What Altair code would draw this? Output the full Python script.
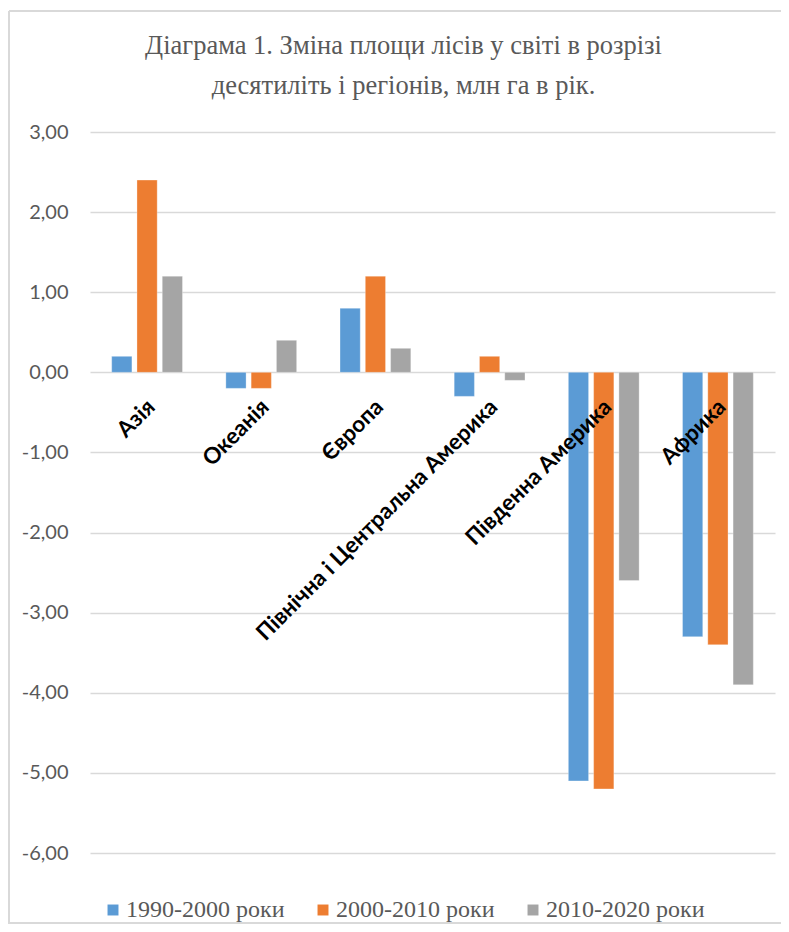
import altair as alt
import pandas as pd

regions = ["Азія", "Океанія", "Європа", "Північна і Центральна Америка", "Південна Америка", "Африка"]
series = ["1990-2000 роки", "2000-2010 роки", "2010-2020 роки"]
v1990 = [0.2, -0.2, 0.8, -0.3, -5.1, -3.3]
v2000 = [2.4, -0.2, 1.2, 0.2, -5.2, -3.4]
v2010 = [1.2, 0.4, 0.3, -0.1, -2.6, -3.9]
colors = ["#5B9BD5", "#ED7D31", "#A5A5A5"]
y_ticks = [-6, -5, -4, -3, -2, -1, 0, 1, 2, 3]

rows = []
for s, vals in zip(series, [v1990, v2000, v2010]):
    for r, v in zip(regions, vals):
        rows.append({"region": r, "series": s, "value": v})
df = pd.DataFrame(rows)
lab = pd.DataFrame({"region": regions})

xscale = alt.Scale(domain=regions, paddingInner=0.38, paddingOuter=0.19)

bars = alt.Chart(df).mark_bar(stroke="white", strokeWidth=0.5, strokeOpacity=0.6).encode(
    x=alt.X("region:N", sort=regions, scale=xscale, axis=None),
    xOffset=alt.XOffset("series:N", sort=series,
                        scale=alt.Scale(paddingInner=0.2, paddingOuter=0)),
    y=alt.Y("value:Q", scale=alt.Scale(domain=[-6, 3], nice=False),
            axis=alt.Axis(values=y_ticks, title=None, domain=False, ticks=False,
                          labelExpr="replace(replace(format(datum.value, '.2f'), '.', ','), '\u2212', '-')",
                          labelFont="Lato", labelFontSize=20, labelColor="#595959",
                          labelPadding=22, grid=True, gridColor="#D9D9D9", gridWidth=1.5)),
    color=alt.Color("series:N", sort=series,
                    scale=alt.Scale(domain=series, range=colors),
                    legend=alt.Legend(orient="none", legendX=11, legendY=766,
                                      direction="horizontal", columns=3, title=None,
                                      labelFont="Liberation Serif", labelFontSize=24,
                                      labelColor="#595959", labelLimit=400,
                                      symbolType="square",
                                      symbolSize=120, symbolStrokeWidth=0,
                                      columnPadding=26, labelOffset=1)),
)

labels = alt.Chart(lab).mark_text(
    angle=315, align="right", baseline="middle", font="Lato", fontWeight="bold",
    fontSize=22.5, color="#000000", dx=-19, dy=25
).encode(
    x=alt.X("region:N", sort=regions, scale=xscale, axis=None),
    y=alt.datum(0),
    text="region:N",
)

frame_color = "#D9D9D9"
frame_top = alt.Chart(lab).mark_rule(color=frame_color, strokeWidth=2).encode(
    x=alt.value(-81), x2=alt.value(700), y=alt.value(-121))
frame_left = alt.Chart(lab).mark_rule(color=frame_color, strokeWidth=2).encode(
    x=alt.value(-81), y=alt.value(-121), y2=alt.value(791))
frame_bottom = alt.Chart(lab).mark_rule(color=frame_color, strokeWidth=2).encode(
    x=alt.value(-90), x2=alt.value(700), y=alt.value(791))

chart = alt.layer(frame_top, frame_left, frame_bottom, bars, labels).properties(
    width=685, height=721,
    padding={"left": 82, "top": 124, "right": 6, "bottom": 78},
    autosize=alt.AutoSizeParams(type="none"),
    title=alt.Title(["Діаграма 1. Зміна площи лісів у світі в розрізі",
                     "десятиліть і регіонів, млн га в рік."],
                    font="Liberation Serif", fontSize=26.5, fontWeight="normal",
                    color="#595959", anchor="middle", frame="group", dx=-29,
                    lineHeight=40, offset=-89),
).configure_view(stroke=None)

chart.save("out.html", embed_options={"renderer": "svg", "actions": False})
